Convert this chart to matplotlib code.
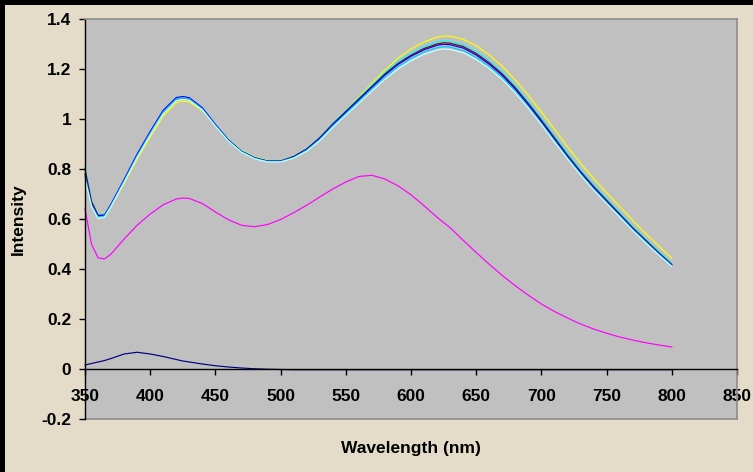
import matplotlib
matplotlib.use("Agg")
import matplotlib.pyplot as plt
from matplotlib.patches import Rectangle

# ---------------- data ----------------
wavelength = [350, 355, 360, 365, 370, 380, 390, 400, 410, 420, 425, 430, 440, 450,
              460, 470, 480, 490, 500, 510, 520, 530, 540, 550, 560, 570, 580, 590,
              600, 610, 620, 625, 630, 640, 650, 660, 670, 680, 690, 700, 710, 720,
              730, 740, 750, 760, 770, 780, 790, 800]

navy = [0.016, 0.022, 0.028, 0.034, 0.042, 0.060, 0.067, 0.060, 0.050, 0.038, 0.032,
        0.028, 0.020, 0.013, 0.008, 0.004, 0.001, -0.001, -0.002, -0.003, -0.003,
        -0.003, -0.003, -0.003, -0.003, -0.003, -0.003, -0.003, -0.003, -0.003,
        -0.003, -0.003, -0.003, -0.003, -0.003, -0.003, -0.003, -0.003, -0.003,
        -0.003, -0.003, -0.003, -0.003, -0.003, -0.003, -0.003, -0.003, -0.003,
        -0.003, -0.003]

magenta = [0.640, 0.500, 0.445, 0.440, 0.460, 0.520, 0.575, 0.620, 0.657, 0.680, 0.684,
           0.682, 0.662, 0.628, 0.597, 0.575, 0.569, 0.578, 0.598, 0.625, 0.655, 0.688,
           0.720, 0.748, 0.770, 0.775, 0.760, 0.733, 0.697, 0.653, 0.607, 0.586, 0.565,
           0.515, 0.466, 0.419, 0.374, 0.333, 0.295, 0.260, 0.230, 0.204, 0.180, 0.160,
           0.143, 0.128, 0.116, 0.105, 0.096, 0.088]

yellow = [0.790, 0.665, 0.612, 0.612, 0.650, 0.742, 0.840, 0.928, 1.012, 1.065, 1.071,
          1.068, 1.034, 0.975, 0.918, 0.874, 0.848, 0.834, 0.833, 0.849, 0.879, 0.925,
          0.982, 1.035, 1.088, 1.142, 1.195, 1.243, 1.280, 1.308, 1.327, 1.332, 1.331,
          1.319, 1.293, 1.256, 1.211, 1.156, 1.094, 1.028, 0.959, 0.889, 0.823, 0.762,
          0.705, 0.650, 0.594, 0.542, 0.492, 0.443]

cyan = [0.810, 0.675, 0.618, 0.618, 0.657, 0.752, 0.852, 0.942, 1.027, 1.080, 1.085,
        1.080, 1.042, 0.977, 0.917, 0.872, 0.846, 0.833, 0.833, 0.850, 0.881, 0.927,
        0.983, 1.034, 1.085, 1.136, 1.187, 1.230, 1.263, 1.290, 1.308, 1.312, 1.310,
        1.297, 1.270, 1.233, 1.188, 1.133, 1.070, 1.003, 0.933, 0.863, 0.797, 0.737,
        0.681, 0.626, 0.571, 0.520, 0.470, 0.423]

dark_red = [0.800, 0.670, 0.615, 0.615, 0.655, 0.750, 0.850, 0.940, 1.025, 1.078, 1.083,
            1.078, 1.040, 0.975, 0.915, 0.870, 0.845, 0.832, 0.832, 0.850, 0.880, 0.925,
            0.980, 1.030, 1.080, 1.130, 1.180, 1.222, 1.255, 1.282, 1.300, 1.305, 1.303,
            1.290, 1.262, 1.225, 1.180, 1.125, 1.062, 0.995, 0.925, 0.855, 0.790, 0.730,
            0.675, 0.620, 0.565, 0.515, 0.465, 0.418]

blue = [0.780, 0.660, 0.612, 0.616, 0.660, 0.758, 0.860, 0.950, 1.035, 1.086, 1.090,
        1.085, 1.045, 0.978, 0.916, 0.871, 0.845, 0.831, 0.831, 0.848, 0.878, 0.922,
        0.977, 1.027, 1.077, 1.127, 1.176, 1.218, 1.251, 1.277, 1.295, 1.299, 1.297,
        1.284, 1.256, 1.219, 1.174, 1.119, 1.056, 0.989, 0.919, 0.850, 0.785, 0.725,
        0.670, 0.616, 0.561, 0.511, 0.462, 0.415]

sky_blue = [0.770, 0.655, 0.607, 0.612, 0.655, 0.752, 0.853, 0.943, 1.028, 1.080, 1.085,
            1.080, 1.040, 0.974, 0.913, 0.869, 0.843, 0.830, 0.830, 0.846, 0.875, 0.918,
            0.972, 1.021, 1.070, 1.119, 1.167, 1.209, 1.242, 1.268, 1.285, 1.289, 1.287,
            1.274, 1.246, 1.210, 1.165, 1.111, 1.049, 0.982, 0.913, 0.845, 0.780, 0.720,
            0.666, 0.612, 0.558, 0.508, 0.459, 0.413]

light_turquoise = [0.760, 0.650, 0.602, 0.607, 0.650, 0.746, 0.846, 0.936, 1.021, 1.074,
                   1.079, 1.075, 1.036, 0.971, 0.911, 0.867, 0.841, 0.828, 0.828, 0.843,
                   0.871, 0.913, 0.966, 1.015, 1.063, 1.112, 1.159, 1.200, 1.233, 1.259,
                   1.276, 1.280, 1.278, 1.265, 1.238, 1.202, 1.158, 1.104, 1.043, 0.977,
                   0.908, 0.840, 0.776, 0.716, 0.662, 0.608, 0.554, 0.504, 0.456, 0.410]

x_ticks = [350, 400, 450, 500, 550, 600, 650, 700, 750, 800, 850]
y_ticks = [-0.2, 0, 0.2, 0.4, 0.6, 0.8, 1, 1.2, 1.4]
y_tick_labels = ["-0.2", "0", "0.2", "0.4", "0.6", "0.8", "1", "1.2", "1.4"]

# ---------------- figure ----------------
W, H = 753, 472
FS = 12.5
plt.rcParams['font.family'] = ['Liberation Sans', 'DejaVu Sans']
fig = plt.figure(figsize=(W / 100, H / 100), dpi=100)
fig.patch.set_facecolor('#E4DCC8')

ax = fig.add_axes([85 / W, (H - 419) / H, 652 / W, 400 / H])
ax.set_facecolor('#C0C0C0')

series = [
    (navy, '#000080'),
    (magenta, '#FF00FF'),
    (yellow, '#FFFF00'),
    (cyan, '#00FFFF'),
    (dark_red, '#800000'),
    (blue, '#0000FF'),
    (sky_blue, '#00CCFF'),
    (light_turquoise, '#CCFFFF'),
]
for vals, col in series:
    ax.plot(wavelength, vals, color=col, lw=0.85, solid_joinstyle='round',
            clip_on=False)

ax.set_xlim(350, 850)
ax.set_ylim(-0.2, 1.4)

# spines
ax.spines['left'].set_color('black')
ax.spines['left'].set_linewidth(1.0)
ax.spines['bottom'].set_position(('data', 0))
ax.spines['bottom'].set_color('black')
ax.spines['bottom'].set_linewidth(1.0)
for s in ['top', 'right']:
    ax.spines[s].set_color('#8C8C8C')
    ax.spines[s].set_linewidth(1.2)
ax.plot([350, 850], [-0.2, -0.2], color='#8C8C8C', lw=1.2, clip_on=False, zorder=0.5)

ax.set_xticks(x_ticks)
ax.set_xticklabels([str(v) for v in x_ticks])
ax.set_yticks(y_ticks)
ax.set_yticklabels(y_tick_labels)
ax.tick_params(axis='x', direction='out', length=4.2, width=1.0, color='black',
               pad=10.0, labelsize=FS)
ax.tick_params(axis='y', direction='out', length=4.3, width=1.0, color='black',
               pad=5.5, labelsize=FS)
for lab in ax.get_xticklabels() + ax.get_yticklabels():
    lab.set_fontweight('bold')

fig.text(411 / W, 1 - 449 / H, 'Wavelength (nm)', ha='center', va='center',
         fontsize=FS, fontweight='bold')
fig.text(18 / W, 1 - 219 / H, 'Intensity', ha='center', va='center',
         rotation=90, fontsize=FS, fontweight='bold')

# black frame strips (screenshot edge)
fig.add_artist(Rectangle((0, 1 - 5 / H), 1, 5 / H, transform=fig.transFigure,
                         facecolor='black', edgecolor='none'))
fig.add_artist(Rectangle((0, 0), 5 / W, 1, transform=fig.transFigure,
                         facecolor='black', edgecolor='none'))

fig.savefig('out.png', dpi=100, facecolor=fig.get_facecolor())
